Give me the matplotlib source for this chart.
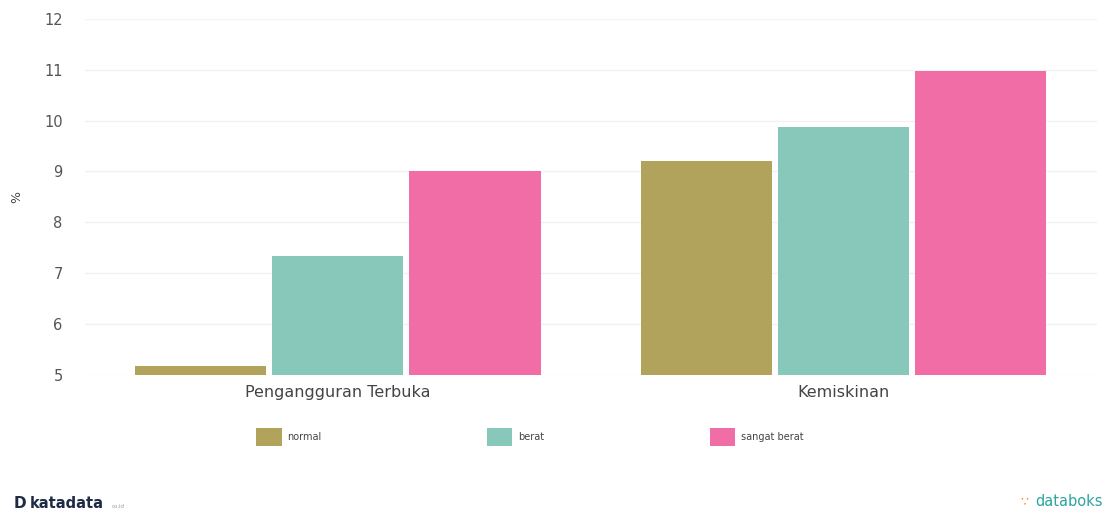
import numpy as np
import matplotlib
matplotlib.use('Agg')
import matplotlib.pyplot as plt
from matplotlib.patches import Patch

plt.rcParams['font.family'] = 'DejaVu Sans'

# data
categories = ['Pengangguran Terbuka', 'Kemiskinan']
series_names = ['normal', 'berat', 'sangat berat']
normal = [5.18, 9.21]
berat = [7.33, 9.88]
sangat_berat = [9.0, 10.98]
colors = ['#B1A35C', '#87C8BA', '#F06DA5']

fig = plt.figure(figsize=(11.18, 5.12), dpi=100)
ax = fig.add_axes([0.076, 0.268, 0.905, 0.695])

x = np.arange(len(categories))
w = 0.259
off = 0.271
for i, (vals, c) in enumerate(zip([normal, berat, sangat_berat], colors)):
    ax.bar(x + (i - 1) * off, np.array(vals) - 5, bottom=5, width=w, color=c, zorder=3)

ax.set_xlim(-0.5, 1.5)
ax.set_ylim(5, 12)
ax.set_yticks(range(5, 13))
ax.set_xticks(x)
ax.set_xticklabels(categories, fontsize=11.5, color='#444444')
ax.tick_params(axis='y', labelsize=10.5, colors='#555555', length=0, pad=16)
ax.tick_params(axis='x', length=0, pad=7)
ax.grid(axis='y', color='#f2f2f2', linewidth=1, zorder=0)
for s in ax.spines.values():
    s.set_visible(False)
ax.set_ylabel('%', fontsize=9, color='#444444', rotation=90, labelpad=15)

handles = [Patch(facecolor=c, label=n) for c, n in zip(colors, series_names)]
fig.legend(handles=handles, loc='center', bbox_to_anchor=(0.474, 0.146), ncol=3,
           frameon=False, fontsize=7, handlelength=2.6, handleheight=2.5,
           handletextpad=0.6, columnspacing=17, labelcolor='#444444')

# logos
fig.text(0.012, 0.008, 'D', fontsize=11, fontweight='bold', color='#1f2a44')
fig.text(0.027, 0.008, 'katadata', fontsize=10.5, fontweight='bold', color='#1f2a44')
fig.text(0.100, 0.008, 'co.id', fontsize=4, color='#999999')
fig.text(0.913, 0.012, '\u2235', fontsize=9, color='#F08A24')
fig.text(0.926, 0.012, 'databoks', fontsize=10.5, color='#2AA5A0')

fig.savefig('out.png', dpi=100)
